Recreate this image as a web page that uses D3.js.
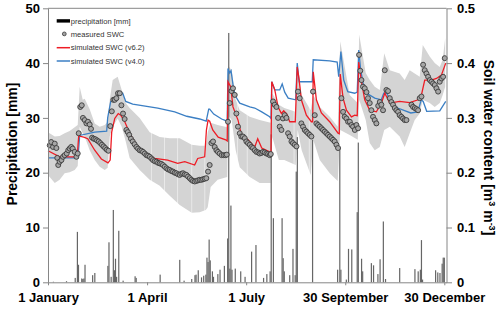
<!DOCTYPE html>
<html><head><meta charset="utf-8">
<script src="https://cdn.jsdelivr.net/npm/d3@7/dist/d3.min.js"></script>
<style>
html,body{margin:0;padding:0;background:#fff;}
svg{display:block;}
</style></head>
<body><svg id="c" width="500" height="309"></svg>
<script>
// ---------- DATA ----------
const xTickDays = [0, 91, 182, 273, 364];
const xTickLabels = ["1 January", "1 April", "1 July", "30 September", "30 December"];
const precipTicks = [0, 10, 20, 30, 40, 50];
const swcTicks = [0, 0.1, 0.2, 0.3, 0.4, 0.5];

const precipDays = [5,17,25,27,28,31,32,33,34,41,43,55,56,58,60,61,62,63,65,69,80,81,103,121,125,132,135,136,138,141,143,145,146,147,148,149,151,152,156,158,162,165,166,167,168,169,172,177,181,187,191,198,201,204,205,207,215,216,217,222,225,227,228,229,243,266,268,269,274,276,279,284,285,288,289,297,299,303,305,308,310,323,337,340,342,343,344,356,358,360,362,363,364];
const precipMM   = [0.1,0.2,0.8,9.2,3.2,0.7,0.6,0.7,3.2,1.3,1.7,3.0,7.3,1.0,13.2,2.2,4.3,1.0,9.4,0.3,1.1,0.8,1.4,4.1,0.3,0.6,1.3,1.4,2.2,0.9,1.2,1.4,4.5,3.7,7.8,4.0,2.0,1.0,1.5,2.3,3.0,8.0,45.5,2.5,14.0,2.3,2.5,2.0,1.0,5.6,6.8,0.8,1.5,2.0,27.0,11.7,11.7,4.4,2.0,1.3,6.1,1.3,20.2,26.5,26.0,2.3,24.5,2.3,0.5,6.1,6.0,12.8,25.5,4.3,2.0,3.5,3.1,1.5,4.2,11.1,0.6,2.6,2.4,2.0,2.3,7.7,0.5,2.2,1.8,1.7,3.4,4.5,4.5];

const measDays = [1.6,2.9,4.6,6.2,7.7,8.5,9.4,10.7,12.3,13.8,15.3,17.2,18.6,19.9,21.3,22.7,24.5,26.1,27.3,28.2,29.6,31.0,32.1,33.7,35.3,36.7,38.3,39.5,40.5,42.0,43.5,45.0,46.5,48.0,49.5,51.0,52.5,54.0,55.5,57.2,58.6,60.0,61.3,62.8,64.3,65.9,67.4,68.9,70.4,72.0,73.3,74.6,76.2,77.8,79.5,81.2,82.7,84.2,85.8,87.3,88.9,90.4,91.9,93.4,95.0,96.4,98.0,99.6,101.1,102.6,104.1,105.6,107.2,108.8,110.3,111.8,113.3,114.8,116.4,117.9,119.5,121.0,122.5,124.0,125.6,127.1,128.6,130.2,131.7,133.2,134.8,136.3,137.8,139.3,140.9,142.4,143.9,145.4,147.0,148.5,150.1,151.6,153.1,154.7,156.1,157.7,159.5,161.4,163.0,164.2,165.3,166.9,168.5,169.9,171.5,173.0,174.5,176.1,177.6,179.1,180.7,182.2,183.7,185.3,186.8,188.3,189.9,191.4,193.1,194.4,195.9,197.4,199.0,200.6,202.1,203.6,204.6,206.7,208.2,209.8,211.3,212.8,214.4,215.8,217.4,219.0,220.5,222.0,223.6,225.0,226.6,228.2,229.6,231.2,232.7,234.2,235.8,237.3,238.8,240.4,241.9,243.4,245.0,246.5,248.0,249.6,251.1,252.6,254.2,255.7,257.2,258.8,260.3,261.8,263.3,264.9,266.4,269.5,271.0,272.5,274.1,275.6,277.2,278.7,280.2,281.8,283.3,284.8,285.7,286.8,287.9,289.3,290.9,292.5,293.9,295.5,297.0,298.5,300.1,301.6,303.3,304.7,306.2,307.7,309.3,310.8,312.3,313.9,315.4,316.9,318.5,320.0,321.5,323.0,324.6,326.1,327.6,329.2,333.8,335.3,336.9,338.4,339.9,341.4,343.0,344.5,346.0,347.6,349.1,350.7,352.2,353.7,355.2,356.8,358.3,359.8,361.4,362.9,364.4];
const measSWC  = [.250,.256,.247,.253,.245,.227,.214,.220,.223,.229,.232,.235,.241,.244,.247,.244,.238,.229,.235,.272,.320,.323,.300,.296,.290,.293,.288,.280,.264,.262,.261,.259,.257,.254,.251,.248,.245,.242,.240,.285,.312,.333,.333,.336,.345,.345,.323,.308,.298,.278,.274,.269,.262,.257,.252,.247,.244,.241,.240,.238,.235,.232,.231,.229,.226,.223,.221,.220,.218,.217,.216,.214,.211,.208,.206,.205,.203,.202,.200,.199,.197,.196,.198,.199,.197,.196,.193,.190,.187,.185,.184,.185,.186,.187,.187,.188,.189,.190,.202,.214,.254,.257,.247,.241,.238,.235,.232,.232,.232,.233,.293,.327,.349,.354,.342,.308,.284,.272,.266,.266,.263,.257,.254,.251,.247,.245,.241,.238,.237,.235,.236,.238,.237,.235,.234,.232,.234,.330,.324,.320,.300,.284,.278,.299,.305,.300,.272,.266,.257,.254,.251,.248,.348,.336,.290,.284,.278,.275,.272,.269,.266,.348,.305,.290,.287,.284,.281,.278,.275,.272,.269,.266,.263,.260,.257,.251,.245,.336,.311,.302,.299,.293,.293,.287,.284,.278,.287,.281,.415,.386,.369,.357,.354,.347,.336,.327,.314,.302,.296,.290,.322,.329,.324,.314,.387,.351,.349,.336,.329,.324,.318,.314,.311,.305,.302,.299,.296,.296,.324,.320,.318,.316,.314,.336,.339,.397,.387,.381,.375,.369,.366,.363,.360,.354,.348,.366,.372,.375,.409];

const bandDays = [0,6.2,10.7,15.3,19.9,24.5,27.3,29.1,31.9,33.7,38.3,42.9,47.5,52.1,54.8,56.7,59.4,64.0,67.7,71.4,75.0,84.2,93.4,102.6,111.8,121.0,132.0,139.3,144.9,146.7,149.4,155.8,164.6,165.5,168.7,172.4,176.1,185.3,194.4,204.5,206.0,212.0,217.0,227.5,229.3,233.0,241.3,243.6,249.6,258.8,266.1,268.4,277.1,284.5,285.8,291.8,295.5,300.1,304.7,308.8,313.9,323.0,327.6,332.2,336.8,341.4,344.2,350.6,355.2,359.8,362.5,364.8];
const bandHigh = [.274,.266,.267,.272,.276,.283,.287,.357,.333,.335,.316,.290,.284,.287,.293,.333,.369,.375,.351,.327,.318,.300,.274,.265,.263,.263,.251,.249,.249,.274,.291,.287,.283,.395,.387,.333,.314,.302,.296,.291,.345,.324,.318,.311,.387,.342,.314,.342,.320,.302,.284,.440,.342,.327,.452,.382,.369,.357,.351,.418,.387,.381,.369,.387,.381,.375,.433,.412,.400,.393,.406,.446];
const bandLow  = [.196,.181,.187,.199,.201,.205,.212,.284,.272,.266,.241,.223,.211,.205,.209,.266,.284,.299,.284,.257,.227,.205,.187,.176,.158,.141,.127,.128,.132,.137,.174,.187,.192,.305,.296,.241,.210,.192,.181,.181,.265,.223,.223,.214,.278,.241,.196,.260,.223,.199,.185,.278,.269,.260,.333,.296,.254,.241,.247,.278,.284,.266,.247,.272,.296,.308,.333,.327,.320,.327,.342,.357];
const bandGapDays = [95, 107, 119, 132, 144, 174, 183, 226, 240];

const v62Days = [0,10.7,26.8,28.2,32.8,36.5,42.9,49.0,55.1,57.1,58.5,61.3,64.5,66.8,70.5,75.1,82.7,91.6,98.0,109.9,119.1,125.6,134.7,137.5,143.9,145.5,147.0,148.5,151.3,156.3,163.2,164.6,165.3,167.8,169.9,174.5,177.6,183.7,189.9,192.6,196.3,203.6,204.8,205.5,208.3,211.3,214.4,216.5,219.3,222.0,227.1,228.9,230.7,232.7,237.3,241.9,243.1,243.6,246.5,251.1,258.7,266.4,267.5,268.4,271.0,274.1,278.7,281.7,284.0,285.4,287.9,290.9,295.5,301.6,306.2,309.3,311.1,313.9,323.0,332.2,339.9,343.0,346.0,352.2,356.8,361.3,365.3];
const v62SWC  = [.240,.229,.229,.267,.265,.262,.241,.225,.218,.223,.274,.299,.308,.305,.293,.272,.245,.232,.226,.223,.217,.220,.214,.226,.229,.278,.296,.294,.278,.265,.260,.258,.366,.357,.320,.296,.269,.260,.247,.262,.245,.238,.238,.366,.351,.320,.308,.313,.307,.293,.293,.393,.369,.333,.305,.293,.293,.384,.333,.309,.293,.272,.271,.380,.336,.314,.302,.305,.304,.402,.366,.333,.314,.311,.327,.345,.338,.327,.330,.328,.333,.342,.369,.369,.372,.378,.400];

const v40Days = [0,27.6,29.1,42.9,53.9,54.8,57.6,61.3,65.9,68.6,71.4,77.8,100.8,116.4,127.4,139.3,145.3,147.6,148.5,152.2,159.5,164.6,165.3,166.9,168.1,170.6,172.4,176.1,185.3,189.9,196.3,203.6,204.8,205.5,208.3,212.8,215.1,217.4,220.6,227.5,228.9,230.7,242.7,243.6,258.7,265.6,267.0,269.0,271.6,275.3,281.7,284.0,285.4,287.2,290.9,300.1,306.1,308.4,311.1,315.7,321.2,333.2,339.6,342.8,344.6,347.8,359.8,365.3];
const v40SWC  = [.227,.227,.268,.274,.276,.300,.330,.333,.345,.345,.330,.325,.318,.311,.303,.298,.294,.316,.316,.307,.298,.294,.390,.382,.386,.351,.339,.327,.320,.318,.311,.302,.299,.366,.351,.351,.362,.347,.336,.333,.400,.366,.366,.406,.404,.402,.375,.421,.369,.348,.345,.347,.424,.387,.347,.336,.333,.345,.345,.327,.318,.309,.311,.333,.330,.312,.313,.330];

// ---------- CHART ----------
const svg = d3.select("#c");
const L = 48, R = 446.5, T = 8.3, B = 282.3;
const x = d3.scaleLinear().domain([0, 366]).range([L, R]);
const yP = d3.scaleLinear().domain([0, 50]).range([B, T]);
const yS = d3.scaleLinear().domain([0, 0.5]).range([B, T]);
const axisCol = "#868686";
const fontFam = "'Liberation Sans', Arial, sans-serif";

const band = bandDays.map((d, i) => ({d, lo: bandLow[i], hi: bandHigh[i]}));
svg.append("path").datum(band)
  .attr("d", d3.area().x(p => x(p.d)).y0(p => yS(p.lo)).y1(p => yS(p.hi)))
  .attr("fill", "#d4d4d4");
svg.append("g").selectAll("line").data(bandGapDays).join("line")
  .attr("x1", d => x(d)).attr("x2", d => x(d)).attr("y1", yS(0.45)).attr("y2", yS(0.1))
  .attr("stroke", "#ffffff").attr("stroke-width", 0.7).attr("stroke-opacity", 0.7);

svg.append("g").selectAll("rect").data(precipDays.map((d, i) => ({d, v: precipMM[i]})))
  .join("rect")
  .attr("x", p => x(p.d) - 0.6).attr("width", 1.2)
  .attr("y", p => yP(p.v)).attr("height", p => B - yP(p.v))
  .attr("fill", "#666");

const line = d3.line().x(p => x(p[0])).y(p => yS(p[1]));
svg.append("path").datum(v40Days.map((d, i) => [d, v40SWC[i]]))
  .attr("d", line).attr("fill", "none").attr("stroke", "#3b7fc4").attr("stroke-width", 1.3);
svg.append("path").datum(v62Days.map((d, i) => [d, v62SWC[i]]))
  .attr("d", line).attr("fill", "none").attr("stroke", "#ee1c25").attr("stroke-width", 1.3);

svg.append("g").selectAll("circle").data(measDays.map((d, i) => [d, measSWC[i]]))
  .join("circle")
  .attr("cx", p => x(p[0])).attr("cy", p => yS(p[1])).attr("r", 2.5)
  .attr("fill", "#a6a6a6").attr("stroke", "#3a3a3a").attr("stroke-width", 0.9);

// frame top
svg.append("line").attr("x1", L).attr("x2", R).attr("y1", T).attr("y2", T)
  .attr("stroke", axisCol).attr("stroke-width", 1);

function styleAxis(g) {
  g.select(".domain").attr("stroke", axisCol);
  g.selectAll(".tick line").attr("stroke", axisCol);
  g.selectAll(".tick text").attr("fill", "#000").attr("font-weight", "bold")
    .attr("font-size", 13).attr("font-family", fontFam);
}
const gl = svg.append("g").attr("transform", `translate(${L},0)`)
  .call(d3.axisLeft(yP).tickValues(precipTicks).tickSize(5).tickSizeOuter(0).tickPadding(3));
styleAxis(gl);
const gr = svg.append("g").attr("transform", `translate(${R},0)`)
  .call(d3.axisRight(yS).tickValues(swcTicks).tickSize(5.5).tickSizeOuter(0).tickPadding(5)
    .tickFormat(d => d === 0 ? "0" : d.toFixed(1)));
styleAxis(gr);
const gb = svg.append("g").attr("transform", `translate(0,${B})`)
  .call(d3.axisBottom(x).tickValues(xTickDays).tickSize(3).tickSizeOuter(0)
    .tickFormat((d, i) => xTickLabels[i]));
styleAxis(gb);
gb.selectAll(".tick text").attr("y", 20.2).attr("dy", 0);

// axis titles
svg.append("text").attr("transform", "translate(17,144) rotate(-90)")
  .attr("text-anchor", "middle").attr("font-family", fontFam).attr("font-weight", "bold")
  .attr("font-size", 14).text("Precipitation [mm]");
const rt = svg.append("text").attr("transform", "translate(484,147.5) rotate(90)")
  .attr("text-anchor", "middle").attr("font-family", fontFam).attr("font-weight", "bold")
  .attr("font-size", 14);
rt.append("tspan").text("Soil water content [m");
rt.append("tspan").attr("dy", -5).attr("font-size", 9).text("3");
rt.append("tspan").attr("dy", 5).text(" m");
rt.append("tspan").attr("dy", -5).attr("font-size", 9).text("-3");
rt.append("tspan").attr("dy", 5).text("]");

// legend
const lg = svg.append("g").attr("font-family", fontFam).attr("font-size", 7.6).attr("fill", "#333");
lg.append("rect").attr("x", 56.7).attr("y", 19.2).attr("width", 13.3).attr("height", 3.4).attr("fill", "#000");
lg.append("circle").attr("cx", 64.3).attr("cy", 33.9).attr("r", 1.9)
  .attr("fill", "#a3a3a3").attr("stroke", "#3a3a3a").attr("stroke-width", 0.8);
lg.append("line").attr("x1", 56.7).attr("x2", 70).attr("y1", 47.7).attr("y2", 47.7)
  .attr("stroke", "#ee1c25").attr("stroke-width", 1.5);
lg.append("line").attr("x1", 56.7).attr("x2", 70).attr("y1", 61).attr("y2", 61)
  .attr("stroke", "#3b7fc4").attr("stroke-width", 1.5);
const labs = ["precipitation [mm]", "measured SWC", "simulated SWC (v6.2)", "simulated SWC (v4.0)"];
labs.forEach((t, i) => lg.append("text").attr("x", 70.7).attr("y", 23.5 + i * 13.4).text(t));
</script></body></html>
